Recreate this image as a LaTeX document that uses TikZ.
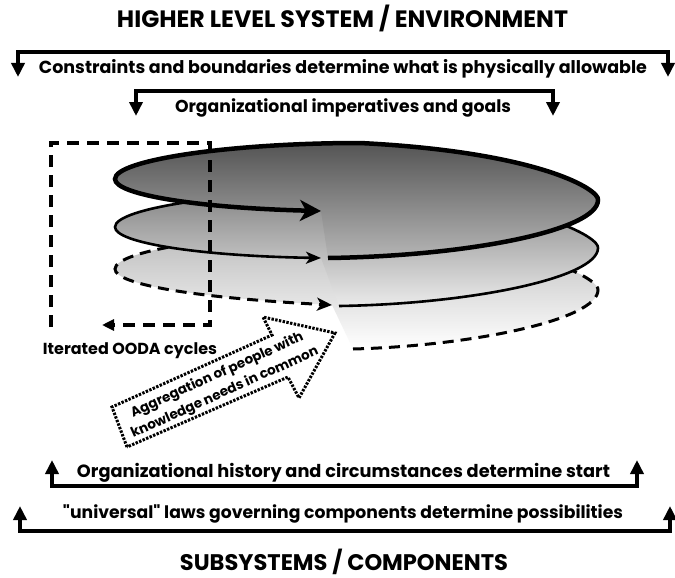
\documentclass[tikz,border=0pt]{standalone}
\usepackage{fontspec}
\setmainfont{Poppins}
\usepackage{graphicx}
\usetikzlibrary{arrows.meta}

% one turn of the spiral: bottom edge -> right end -> top edge -> left tip -> arrow end
\newcommand\ringedge[4]{(#1,#2) .. controls (470,256) and (598,230) .. (598,200)
  .. controls (600,190) and (540,152) .. (360,143)
  .. controls (230,143) and (115,160) .. (115,179)
  .. controls (115,195) and (200,208) .. (#3,#4)}

\definecolor{ringAtop}{gray}{0.33}
\definecolor{ringAbot}{gray}{0.71}
\definecolor{ringBtop}{gray}{0.52}
\definecolor{ringBbot}{gray}{0.92}
\definecolor{ringCtop}{gray}{0.74}
\definecolor{ringCbot}{gray}{1.0}

\tikzset{
  lbl/.style={font=\bfseries, inner sep=0pt, anchor=base},
  bracket/.style={line width=4.5pt, line join=miter,
    {Triangle[length=14pt,width=13pt]}-{Triangle[length=14pt,width=13pt]}},
  ooda/.style={line width=4.5pt, dash pattern=on 12pt off 8pt,
    -{Triangle[length=12pt,width=11pt]}},
  turnA/.style={line width=4.5pt, -{Stealth[length=21pt,width=21pt,inset=6pt]}},
  turnB/.style={line width=2.6pt, -{Stealth[length=15pt,width=12pt,inset=4pt]}},
  turnC/.style={line width=3pt, dash pattern=on 11pt off 7pt,
    -{Stealth[length=15pt,width=13pt,inset=4pt]}},
  groupbox/.style={line width=3pt, dash pattern=on 2.4pt off 1.4pt, fill=white},
}

\begin{document}
\begin{tikzpicture}[x=1pt,y=-1pt]
\useasboundingbox[fill=white] (0,0) rectangle (675,578);

% ---------- headings ----------
\node[lbl] (top) at (342.5,28) {\resizebox{451pt}{!}{HIGHER LEVEL SYSTEM / ENVIRONMENT}};
\node[lbl] (bottom) at (344,570) {\resizebox{328pt}{!}{SUBSYSTEMS / COMPONENTS}};

% ---------- downward influences ----------
\coordinate (k1a) at (18,77);  \coordinate (k1b) at (668,77);
\draw[bracket] (k1a) -- ++(0,-25) -| (k1b);
\node[lbl] (constraints) at (343,74)
  {\resizebox{608pt}{!}{Constraints and boundaries determine what is physically allowable}};

\coordinate (k2a) at (136,116); \coordinate (k2b) at (553,116);
\draw[bracket] (k2a) -- ++(0,-25) -| (k2b);
\node[lbl] (goals) at (343,113)
  {\resizebox{336pt}{!}{Organizational imperatives and goals}};

% ---------- upward influences ----------
\coordinate (u1a) at (52,460); \coordinate (u1b) at (637,460);
\draw[bracket] (u1a) -- ++(0,26) -| (u1b);
\node[lbl] (history) at (343.5,477)
  {\resizebox{533pt}{!}{Organizational history and circumstances determine start}};

\coordinate (u2a) at (20,506); \coordinate (u2b) at (670,506);
\draw[bracket] (u2a) -- ++(0,25) -| (u2b);
\node[lbl] (laws) at (343,518)
  {\resizebox{560pt}{!}{\textquotedbl universal\textquotedbl{} laws governing components determine possibilities}};

% ---------- spiral of stacked cycles (lowest turn first) ----------
\begin{scope}[yshift=-90pt]
  \shade[top color=ringCtop, bottom color=ringCbot] \ringedge{353}{259}{332}{215} -- cycle;
  \draw[turnC] \ringedge{353}{259}{332}{215};
\end{scope}
\begin{scope}[yshift=-48pt]
  \shade[top color=ringBtop, bottom color=ringBbot] \ringedge{339}{258}{321}{210} -- cycle;
  \draw[turnB] \ringedge{339}{258}{321}{210};
\end{scope}
\shade[top color=ringAtop, bottom color=ringAbot] \ringedge{328}{258}{321}{211} -- cycle;
\draw[turnA] \ringedge{328}{258}{321}{211};

% ---------- OODA loop frame ----------
\coordinate (o1) at (51,327);
\coordinate (o2) at (210,143);
\coordinate (o3) at (102,325);
\draw[ooda] (o1) |- (o2) |- (o3);
\node[lbl] (oodalabel) at (130,354) {\resizebox{174pt}{!}{Iterated OODA cycles}};

% ---------- aggregation arrow ----------
\coordinate (g1) at (127,447);
\coordinate (g2) at (112,407);
\coordinate (g3) at (272,335);
\coordinate (g4) at (263,317);
\coordinate (g5) at (335,333);
\coordinate (g6) at (299,398);
\coordinate (g7) at (288,377);
\draw[groupbox] (g1) -- (g2) -- (g3) -- (g4) -- (g5) -- (g6) -- (g7) -- cycle;
\node[font=\bfseries\fontsize{13.5}{19}\selectfont, align=center, rotate=24.3, inner sep=0pt]
  (aggregation) at (221,384) {Aggregation of people with\\knowledge needs in common};

\end{tikzpicture}
\end{document}
